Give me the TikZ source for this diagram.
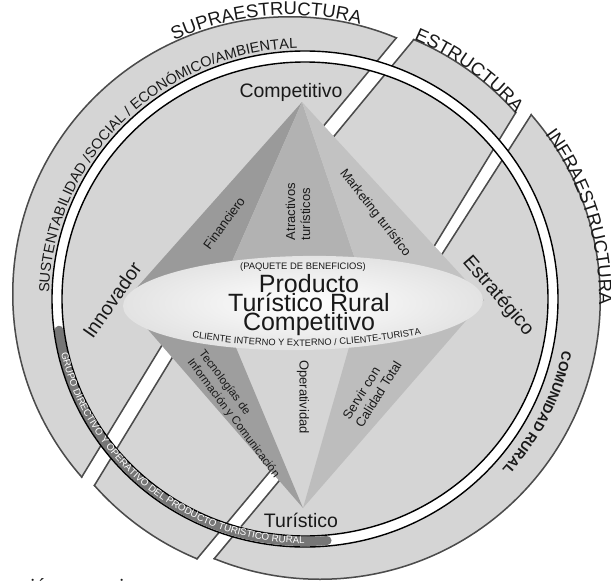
\documentclass[tikz,border=0pt]{standalone}
\usepackage{fontspec}
\setmainfont{Liberation Sans}
\newfontfamily\bodyserif{Liberation Serif}
\usetikzlibrary{decorations.text}
\definecolor{bandfill}{RGB}{213,213,213}
\definecolor{bandline}{RGB}{75,75,75}
\definecolor{finfill}{RGB}{154,154,154}
\definecolor{atrfill}{RGB}{178,178,178}
\definecolor{mktfill}{RGB}{194,194,194}
\definecolor{tecfill}{RGB}{158,158,158}
\definecolor{serfill}{RGB}{189,189,189}
\definecolor{grupofill}{RGB}{118,118,118}
\definecolor{txt}{RGB}{25,25,25}
\begin{document}
\begin{tikzpicture}[x=1pt,y=-1pt,
  edge/.style={draw=bandline, line width=3pt},
  ringline/.style={draw=black, line width=1.4pt},
  big/.style={font=\fontsize{19.5}{20}\selectfont, text=txt, inner sep=0pt},
  titletxt/.style={font=\fontsize{25}{25}\selectfont, text=txt, inner sep=0pt},
  tri/.style={font=\fontsize{13}{15}\selectfont, text=txt, inner sep=0pt},
  trismall/.style={font=\fontsize{11.5}{14.5}\selectfont, text=txt, inner sep=0pt}]
\useasboundingbox (0,0) rectangle (611,581);
\clip (0,0) rectangle (611,581);

% ---------- SUPRAESTRUCTURA piece ----------
\begin{scope}
  \clip (290,294) circle[radius=278pt];
  \clip (-60,-60) -- (478,-60) -- (398,37) -- (263.4,200) -- (190.4,300) -- (82,478) -- (-22.8,650) -- (-60,650) -- cycle;
  \fill[bandfill] (-60,-60) rectangle (700,700);
  \draw[edge] (290,294) circle[radius=278pt];
  \draw[edge] (-60,-60) -- (478,-60) -- (398,37) -- (263.4,200) -- (190.4,300) -- (82,478) -- (-22.8,650) -- (-60,650) -- cycle;
\end{scope}
% ---------- ESTRUCTURA piece ----------
\begin{scope}
  \clip (305,299) circle[radius=282pt];
  \clip (495,-60) -- (410,43) -- (280.4,200) -- (206.5,300) -- (92,488) -- (-6.7,650) -- (122,650) -- (197,560) -- (389,330) -- (414.4,280) -- (622,-60) -- cycle;
  \fill[bandfill] (-60,-60) rectangle (700,700);
  \draw[edge] (305,299) circle[radius=282pt];
  \draw[edge] (495,-60) -- (410,43) -- (280.4,200) -- (206.5,300) -- (92,488) -- (-6.7,650) -- (122,650) -- (197,560) -- (389,330) -- (414.4,280) -- (622,-60) -- cycle;
\end{scope}
% ---------- INFRAESTRUCTURA piece ----------
\begin{scope}
  \clip (320,299) circle[radius=281pt];
  \clip (642,-60) -- (527,120) -- (424.6,280) -- (404,330) -- (208,565) -- (137,650) -- (700,650) -- (700,-60) -- cycle;
  \fill[bandfill] (-60,-60) rectangle (700,700);
  \draw[edge] (320,299) circle[radius=281pt];
  \draw[edge] (642,-60) -- (527,120) -- (424.6,280) -- (404,330) -- (208,565) -- (137,650) -- (700,650) -- (700,-60) -- cycle;
\end{scope}

% ---------- white ring ----------
\fill[white, even odd rule] (305,299) ellipse[x radius=253pt, y radius=248pt] (305,299) ellipse[x radius=243pt, y radius=237pt];
\draw[grupofill, line width=9pt, line cap=round] ({305+248*cos(172.6)},{299+242.5*sin(172.6)}) arc[start angle=-172.6, end angle=-84.9, x radius=248pt, y radius=242.5pt];
\draw[ringline] (305,299) ellipse[x radius=253pt, y radius=248pt];
\draw[ringline] (305,299) ellipse[x radius=243pt, y radius=237pt];

% ---------- texts on the rings ----------
\path[decorate, decoration={text along path, text align=center, text color=txt,
  text={|\fontsize{18.5}{18.5}\selectfont|SUPRAESTRUCTURA}}]
  ({290+279*cos(230)},{294+279*sin(230)}) arc[start angle=-230, end angle=-300, radius=279pt];
\path[decorate, decoration={text along path, text align=center, text color=txt,
  text={|\fontsize{18.5}{18.5}\selectfont|ESTRUCTURA}}]
  ({305+281*cos(270.7)},{299+281*sin(270.7)}) arc[start angle=-270.7, end angle=-340.7, radius=281pt];
\path[decorate, decoration={text along path, text align=center, text color=txt,
  text={|\fontsize{18.5}{18.5}\selectfont|INFRAESTRUCTURA}}]
  ({320+279*cos(305)},{299+279*sin(305)}) arc[start angle=-305, end angle=-380, radius=279pt];
\path[decorate, decoration={text along path, text align=center, text color=txt,
  text={|\fontsize{14.5}{14.5}\selectfont|SUSTENTABILIDAD /SOCIAL / ECONÓMICO/AMBIENTAL}}]
  ({305+256*cos(172)},{299+251*sin(172)}) arc[start angle=-172, end angle=-277.5, x radius=256pt, y radius=251pt];
\path[decorate, decoration={text along path, text align=center, text color=txt,
  text={|\fontsize{13.5}{13.5}\selectfont\bfseries|COMUNIDAD RURAL}}]
  ({305+263*cos(0)},{299+257*sin(0)}) arc[start angle=0, end angle=-53, x radius=263pt, y radius=257pt];
\path[decorate, decoration={text along path, text align=center, text color=white,
  text={|\fontsize{9.8}{9.8}\selectfont|GRUPO DIRECTIVO Y OPERATIVO DEL PRODUCTO TURÍSTICO RURAL}}]
  ({305+250*cos(177)},{299+244.5*sin(177)}) arc[start angle=-177, end angle=-80.5, x radius=250pt, y radius=244.5pt];

% ---------- diamond ----------
\fill[bandfill] (302,102) -- (484,300) -- (303,508) -- (124,302) -- cycle;
\fill[finfill] (302,102) -- (124,302) -- (219.6,290) -- cycle;
\fill[atrfill] (302,102) -- (219.6,290) -- (365.5,290) -- cycle;
\fill[mktfill] (302,102) -- (365.5,290) -- (484,300) -- cycle;
\fill[tecfill] (303,508) -- (124,302) -- (220.3,310) -- cycle;
\fill[serfill] (303,508) -- (359.7,310) -- (484,300) -- cycle;

% ---------- central ellipse ----------
\begin{scope}[shift={(303,303)}, rotate=1]
  \shade[inner color=white, outer color=black!11] (0,0) ellipse[x radius=180pt, y radius=47pt];
\end{scope}

% ---------- labels ----------
\node[big, anchor=base] (comp) at (291,97) {Competitivo};
\node[big, rotate=55] (inno) at (112,300) {Innovador};
\node[big, rotate=-49] (estr) at (498,296) {Estratégico};
\node[big, anchor=base] (turi) at (301,527) {Turístico};

\node[font=\fontsize{9.4}{10}\selectfont, text=txt, inner sep=0pt, anchor=base] (paq) at (303,269.5) {(PAQUETE DE BENEFICIOS)};
\node[titletxt, anchor=base] (t1) at (309,292) {Producto};
\node[titletxt, anchor=base] (t2) at (309,311) {Turístico Rural};
\node[titletxt, anchor=base] (t3) at (309,330) {Competitivo};
\path[decorate, decoration={text along path, text align=center, text color=txt,
  text={|\fontsize{9.3}{9.3}\selectfont|CLIENTE INTERNO Y EXTERNO / CLIENTE-TURISTA}}]
  (181,336) .. controls (262,350) and (348,350) .. (432,332);

\node[tri, rotate=54] (fin) at (224,223) {Financiero};
\node[tri, rotate=90, align=left] (atr) at (298,211.5) {Atractivos\\turísticos};
\node[tri, rotate=-52] (mkt) at (375,213) {Marketing turístico};
\node[trismall, rotate=-53, align=left] (tec) at (239,414) {Tecnologías de\\Información y Comunicación};
\node[tri, rotate=-90] (ope) at (303,397) {Operatividad};
\node[tri, rotate=58, align=left] (ser) at (372,390) {Servir con\\Calidad Total};

% ---------- cut-off text at the bottom (only letter tops show) ----------
\node[font=\bodyserif\fontsize{20}{20}\selectfont, text=txt, inner sep=0pt, anchor=base west] (ion) at (30,592) {ión};
\node[font=\bodyserif\fontsize{20}{20}\selectfont, text=txt, inner sep=0pt, anchor=base west] (ii) at (119,592) {i};
\end{tikzpicture}
\end{document}
